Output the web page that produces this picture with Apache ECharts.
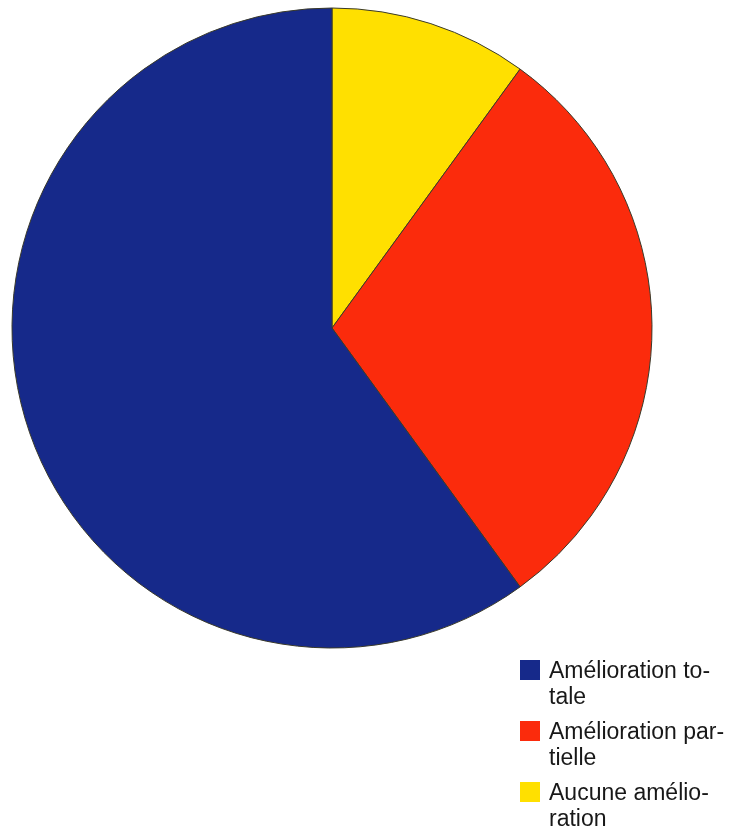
<!DOCTYPE html>
<html>
<head>
<meta charset="utf-8">
<script src="https://cdn.jsdelivr.net/npm/echarts@6/dist/echarts.min.js"></script>
<style>
  html, body { margin: 0; padding: 0; background: #ffffff; }
  #chart { width: 735px; height: 836px; }
</style>
</head>
<body>
<div id="chart"></div>
<script>
// Slices in clockwise order from 12 o'clock
const categories = ['Aucune amélioration', 'Amélioration partielle', 'Amélioration totale'];
const values = [10, 30, 60];
// Legend order and hyphenated wrapped labels
const legendOrder = ['Amélioration totale', 'Amélioration partielle', 'Aucune amélioration'];
const legendLabels = {
  'Amélioration totale': 'Amélioration to-\ntale',
  'Amélioration partielle': 'Amélioration par-\ntielle',
  'Aucune amélioration': 'Aucune amélio-\nration'
};
const colors = {
  'Aucune amélioration': '#ffe000',
  'Amélioration partielle': '#fb2b0c',
  'Amélioration totale': '#16298a'
};

// Legend swatch: a square sitting beside the first text line of a two-line label
const swatchIcon = 'path://M0 0M0 1L20 1L20 21L0 21ZM24 52';

const chart = echarts.init(document.getElementById('chart'), null, { renderer: 'canvas' });
chart.setOption({
  animation: false,
  backgroundColor: '#ffffff',
  legend: {
    orient: 'vertical',
    left: 520,
    top: 659,
    padding: 0,
    itemWidth: 24,
    itemHeight: 52,
    itemGap: 9,
    icon: swatchIcon,
    itemStyle: { borderWidth: 0 },
    data: legendOrder,
    formatter: name => legendLabels[name],
    textStyle: {
      fontFamily: '"Liberation Sans", Arial, sans-serif',
      fontSize: 23,
      lineHeight: 26,
      color: '#181818'
    }
  },
  series: [{
    type: 'pie',
    center: [332, 328],
    radius: [0, 320],
    startAngle: 90,
    clockwise: true,
    label: { show: false },
    labelLine: { show: false },
    emphasis: { disabled: true },
    itemStyle: { borderColor: '#3a3a2a', borderWidth: 1 },
    data: categories.map((c, i) => ({
      name: c,
      value: values[i],
      itemStyle: { color: colors[c] }
    }))
  }]
});
</script>
</body>
</html>
